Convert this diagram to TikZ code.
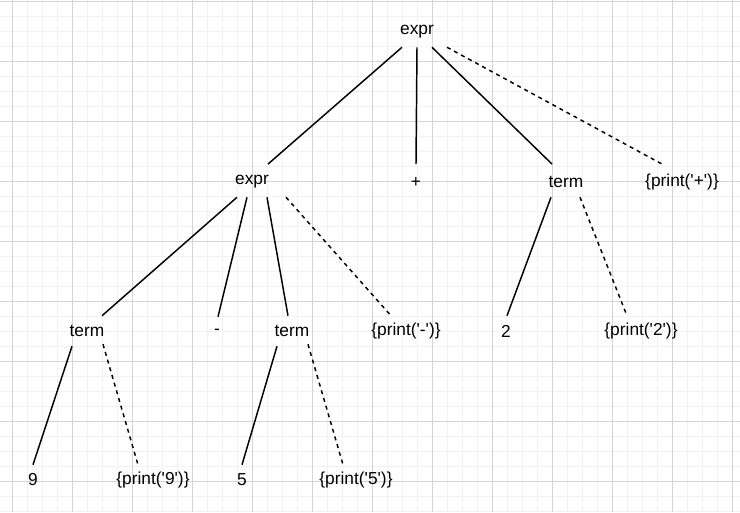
\documentclass[tikz,border=0pt]{standalone}
\usepackage{fontspec}
\setmainfont{Liberation Sans}
\newcommand{\sq}{\textquotesingle}
\begin{document}
\begin{tikzpicture}[x=0.75pt,y=-0.75pt,
  lbl/.style={font=\fontsize{13}{15}\selectfont, inner sep=0pt, minimum height=22.5pt, anchor=center},
  tree/.style={line width=1.1pt},
  act/.style={line width=1.1pt, dash pattern=on 3pt off 3pt}]
% canvas and grid
\definecolor{minorgrid}{RGB}{242,242,242}
\definecolor{majorgrid}{RGB}{212,212,212}
\fill[white] (0,0) rectangle (740,512);
\useasboundingbox (0,0) rectangle (740,512);
\foreach \x in {-3,12,...,740} \draw[minorgrid, line width=0.75pt] (\x,0) -- (\x,512);
\foreach \y in {1,16,...,512} \draw[minorgrid, line width=0.75pt] (0,\y) -- (740,\y);
\foreach \x in {12,72,...,740} \draw[majorgrid, line width=0.75pt] (\x,0) -- (\x,512);
\foreach \y in {1,61,...,512} \draw[majorgrid, line width=0.75pt] (0,\y) -- (740,\y);

% nodes
\node[lbl] (e0) at (417,32) {expr};
\node[lbl] (e1) at (252,182) {expr};
\node[lbl] (plus) at (416,182) {+};
\node[lbl] (tR) at (566,182) {term};
\node[lbl] (pplus) at (682,182) {\{print(\sq+\sq)\}};
\node[lbl] (tL) at (87,331) {term};
\node[lbl] (minus) at (217,332) {-};
\node[lbl] (tM) at (292,331) {term};
\node[lbl] (pminus) at (406,331) {\{print(\sq-\sq)\}};
\node[lbl] (two) at (506,331) {2};
\node[lbl] (ptwo) at (641,331) {\{print(\sq2\sq)\}};
\node[lbl] (nine) at (33,480) {9};
\node[lbl] (pnine) at (153,480) {\{print(\sq9\sq)\}};
\node[lbl] (five) at (242,480) {5};
\node[lbl] (pfive) at (356,480) {\{print(\sq5\sq)\}};

% edges
\draw[tree] ([xshift=-11.25pt]e0.south) -- ([xshift=12pt,yshift=2pt]e1.north);
\draw[tree] (e0.south) -- ([yshift=2pt]plus.north);
\draw[tree] ([xshift=11.25pt]e0.south) -- ([xshift=-10.5pt,yshift=2pt]tR.north);
\draw[act]  ([xshift=22.5pt]e0.south) -- ([xshift=-15pt,yshift=2pt]pplus.north);

\draw[tree] ([xshift=-11.25pt]e1.south) -- ([xshift=11.25pt]tL.north);
\draw[tree] ([xshift=-3.75pt]e1.south) -- ([xshift=0.75pt]minus.north);
\draw[tree] ([xshift=11.25pt]e1.south) -- ([xshift=-3pt]tM.north);
\draw[act]  ([xshift=25.5pt]e1.south) -- ([xshift=-11.25pt]pminus.north);

\draw[tree] ([xshift=-11.25pt]tR.south) -- ([xshift=0.75pt]two.north);
\draw[act]  ([xshift=10.5pt]tR.south) -- ([xshift=-10.5pt]ptwo.north);

\draw[tree] ([xshift=-11.25pt]tL.south) -- (nine.north);
\draw[act]  ([xshift=12pt,yshift=1.5pt]tL.south) -- ([xshift=-11.25pt]pnine.north);

\draw[tree] ([xshift=-11.25pt]tM.south) -- (five.north);
\draw[act]  ([xshift=12pt,yshift=1.5pt]tM.south) -- ([xshift=-9.75pt]pfive.north);
\end{tikzpicture}
\end{document}
